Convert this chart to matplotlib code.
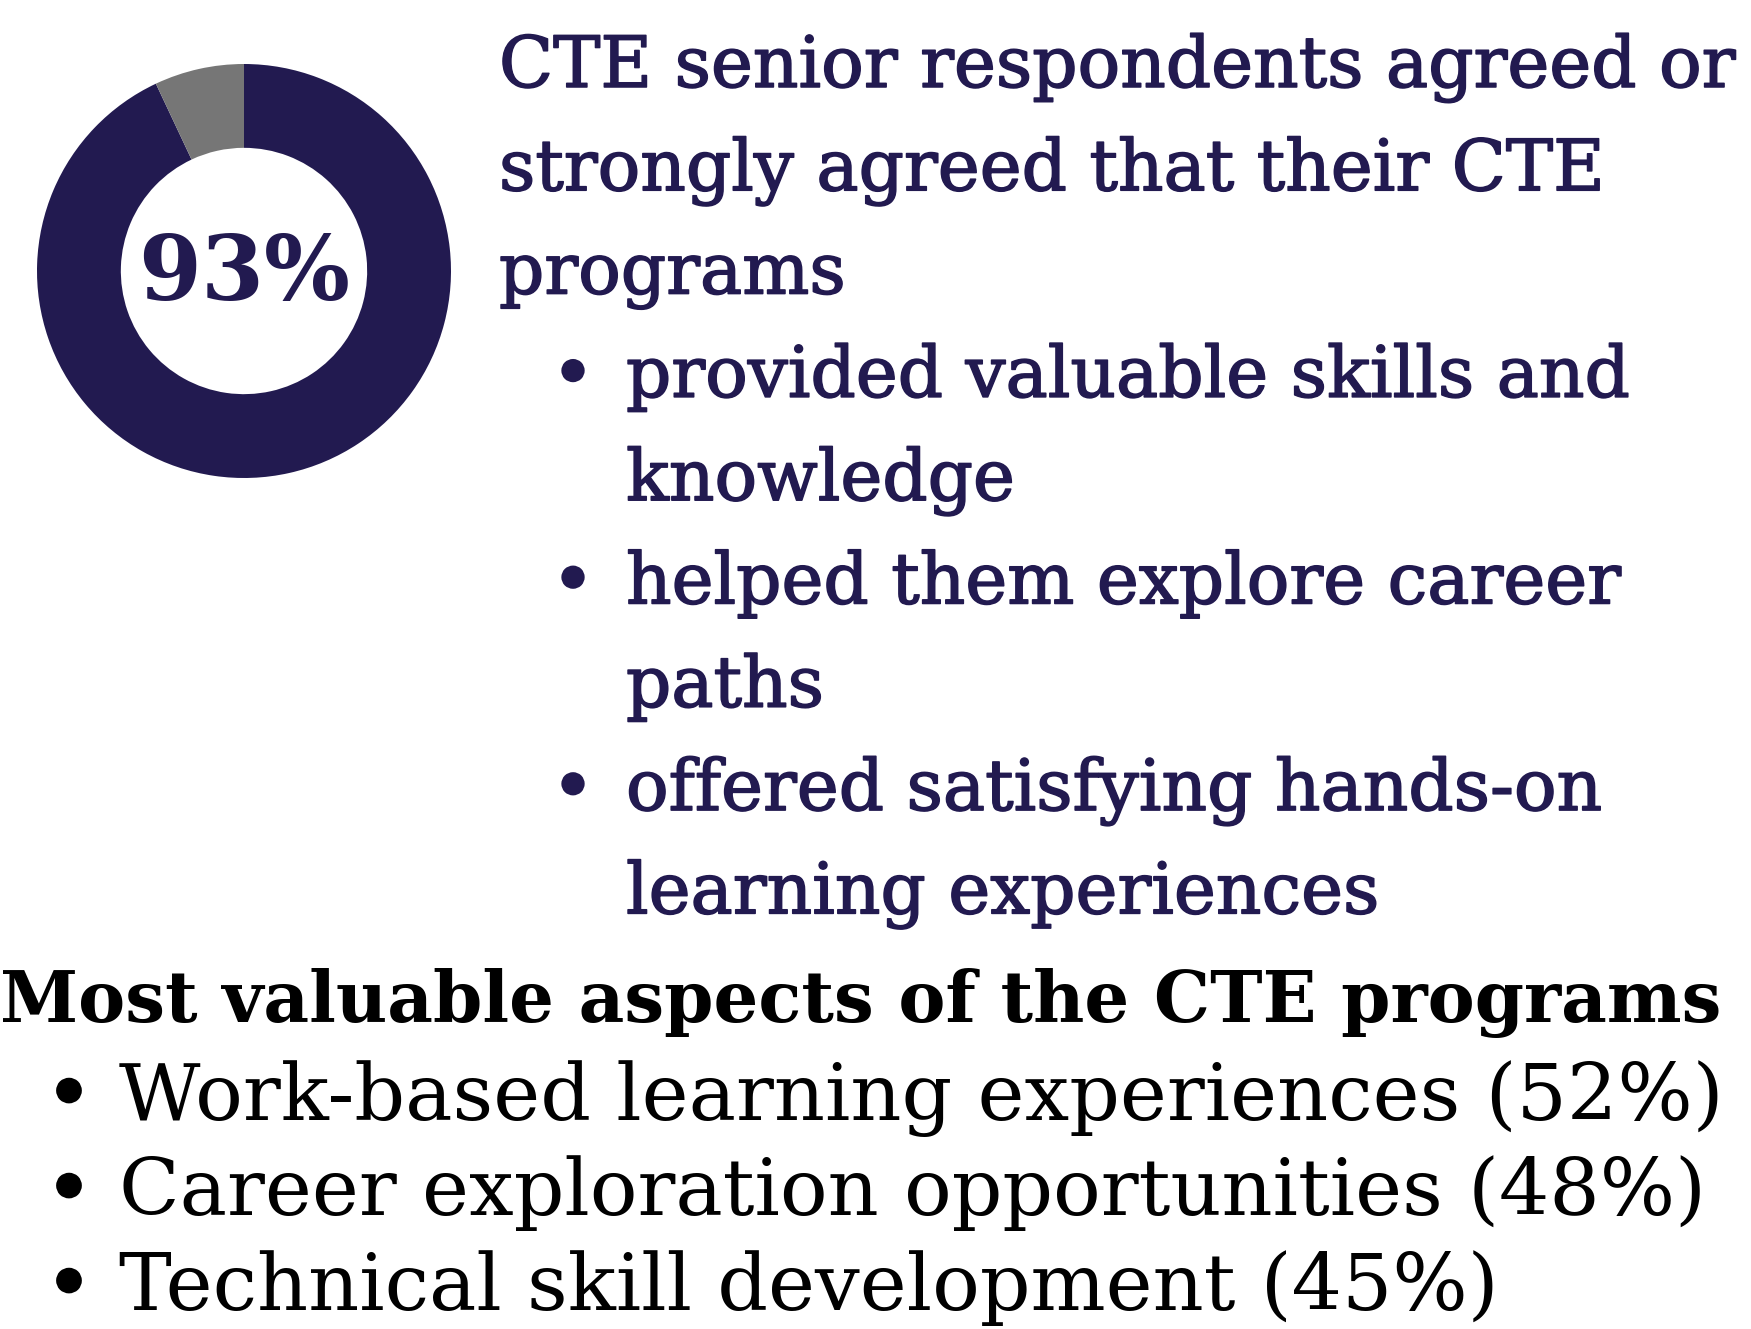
import matplotlib
matplotlib.use("Agg")
import matplotlib.pyplot as plt
import matplotlib.patheffects as pe

# ---- data ----
share_labels = ["Agreed / strongly agreed", "Other"]
share_values = [93, 7]
share_colors = ["#221A50", "#767676"]

intro_lines = ["CTE senior respondents agreed or",
               "strongly agreed that their CTE",
               "programs"]
agree_items = [["provided valuable skills and", "knowledge"],
               ["helped them explore career", "paths"],
               ["offered satisfying hands-on", "learning experiences"]]

heading = "Most valuable aspects of the CTE programs"
aspect_labels = ["Work-based learning experiences",
                 "Career exploration opportunities",
                 "Technical skill development"]
aspect_values = [52, 48, 45]

W, H = 1751, 1329
DPI = 100
NAVY = "#221A50"
FONT = ["DejaVu Serif"]

fig = plt.figure(figsize=(W / DPI, H / DPI), dpi=DPI)
fig.patch.set_facecolor("white")
renderer = fig.canvas.get_renderer()


def fx(px):
    return px / W


def fy(py):
    return 1 - py / H


def fit_size(txt, target_w, weight="normal", base=50):
    t = fig.text(0, 0, txt, fontsize=base, family=FONT, fontweight=weight)
    w = t.get_window_extent(renderer=renderer).width
    t.remove()
    return base * target_w / w


def heavy(color, lw=1.1):
    return [pe.Stroke(linewidth=lw, foreground=color), pe.Normal()]


# ---- donut ----
cx, cy, R = 244, 271, 207
ax = fig.add_axes([fx(cx - R), fy(cy + R), 2 * R / W, 2 * R / H])
ax.pie(share_values, colors=share_colors, startangle=90, counterclock=False,
       radius=1, wedgeprops=dict(width=0.405, edgecolor="none"))
ax.set_xlim(-1, 1)
ax.set_ylim(-1, 1)
ax.set_aspect("equal")
ax.axis("off")
pct_size = fit_size(f"{share_values[0]}%", 212, weight="bold", base=60)
ax.text(0, -0.02, f"{share_values[0]}%", ha="center", va="center",
        fontsize=pct_size, fontweight="bold", color=NAVY, family=FONT)

# ---- upper right text ----
up_size = fit_size(intro_lines[0], 1238)
base_y = 87
step = 103.3
row = 0
for line in intro_lines:
    fig.text(fx(499), fy(base_y + step * row), line, fontsize=up_size,
             color=NAVY, family=FONT, va="baseline", ha="left",
             path_effects=heavy(NAVY))
    row += 1
for item in agree_items:
    fig.text(fx(573), fy(base_y + step * row), "\u2022", fontsize=up_size,
             color=NAVY, family=FONT, va="baseline", ha="center",
             path_effects=heavy(NAVY, 2))
    for line in item:
        fig.text(fx(626), fy(base_y + step * row), line, fontsize=up_size,
                 color=NAVY, family=FONT, va="baseline", ha="left",
                 path_effects=heavy(NAVY))
        row += 1

# ---- bottom section ----
head_size = fit_size(heading, 1725, weight="bold")
fig.text(fx(0), fy(1022), heading, fontsize=head_size, fontweight="bold",
         color="black", family=FONT, va="baseline", ha="left")

aspect_lines = [f"{lab} ({v}%)" for lab, v in zip(aspect_labels, aspect_values)]
bot_size = fit_size(aspect_lines[0], 1604)
for i, line in enumerate(aspect_lines):
    yb = 1120 + 95 * i
    fig.text(fx(69), fy(yb), "\u2022", fontsize=bot_size, color="black",
             family=FONT, va="baseline", ha="center",
             path_effects=heavy("black", 2))
    fig.text(fx(119), fy(yb), line, fontsize=bot_size, color="black",
             family=FONT, va="baseline", ha="left")

fig.savefig("out.png", dpi=DPI, facecolor="white")
